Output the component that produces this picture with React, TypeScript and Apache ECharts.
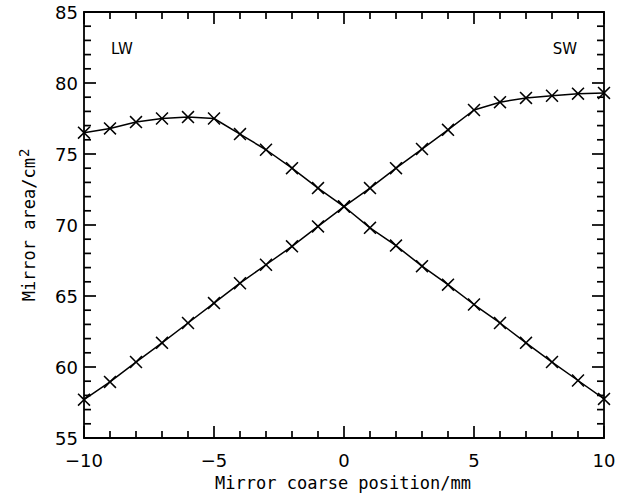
import React, { useEffect, useRef } from "react";
import * as echarts from "echarts";

const positions = [-10, -9, -8, -7, -6, -5, -4, -3, -2, -1, 0, 1, 2, 3, 4, 5, 6, 7, 8, 9, 10];
const lwValues = [76.5, 76.8, 77.25, 77.5, 77.6, 77.5, 76.4, 75.3, 74.0, 72.6, 71.3, 69.8, 68.55, 67.1, 65.8, 64.4, 63.1, 61.7, 60.35, 59.05, 57.75];
const swValues = [57.7, 58.95, 60.35, 61.7, 63.1, 64.5, 65.9, 67.2, 68.5, 69.9, 71.3, 72.6, 74.0, 75.35, 76.7, 78.1, 78.65, 78.95, 79.1, 79.25, 79.3];
const xTickValues = [-10, -9, -8, -7, -6, -5, -4, -3, -2, -1, 0, 1, 2, 3, 4, 5, 6, 7, 8, 9, 10];
const yTickValues = [55, 56, 57, 58, 59, 60, 61, 62, 63, 64, 65, 66, 67, 68, 69, 70, 71, 72, 73, 74, 75, 76, 77, 78, 79, 80, 81, 82, 83, 84, 85];
const xLabel = "Mirror coarse position/mm";
const yLabelMain = "Mirror area/cm";
const yLabelSup = "2";
const leftTag = "LW";
const rightTag = "SW";

const FONT = "DejaVu Sans";
const MONO = "DejaVu Sans Mono";
const CROSS = "path://M0,1L1,0L6,5L11,0L12,1L7,6L12,11L11,12L6,7L1,12L0,11L5,6Z";
const MAJOR = 12;
const MINOR = 7;

export default function App() {
  const ref = useRef<HTMLDivElement>(null);
  useEffect(() => {
    if (!ref.current) return;
    const chart = echarts.init(ref.current, null, { renderer: "svg" });
    const labelStyle = { color: "#000", fontFamily: FONT, fontSize: 18 };
    const mkSeries = (vals: number[]) => ({
      type: "line",
      data: positions.map((p, i) => [p, vals[i]]),
      symbol: CROSS,
      symbolSize: 13,
      showSymbol: true,
      itemStyle: { color: "#000" },
      lineStyle: { color: "#000", width: 1.5 },
    });
    const textGraphics: any[] = [
      { type: "text", id: "lw", x: 122, y: 49, style: { text: leftTag, fill: "#000", font: `15px "${FONT}"`, align: "center", verticalAlign: "middle" } },
      { type: "text", id: "sw", x: 565, y: 49, style: { text: rightTag, fill: "#000", font: `15px "${FONT}"`, align: "center", verticalAlign: "middle" } },
      { type: "text", id: "xl", x: 343, y: 483, style: { text: xLabel, fill: "#000", font: `17px "${MONO}"`, align: "center", verticalAlign: "middle" } },
      {
        type: "text", id: "yl", x: 27, y: 225, rotation: Math.PI / 2,
        style: {
          text: `{m|${yLabelMain}}{s|${yLabelSup}}`,
          fill: "#000", align: "center", verticalAlign: "middle",
          rich: {
            m: { fontFamily: MONO, fontSize: 17, fill: "#000", verticalAlign: "bottom", lineHeight: 20 },
            s: { fontFamily: MONO, fontSize: 14, fill: "#000", verticalAlign: "top", lineHeight: 20, padding: [0, 0, 10, 1] },
          },
        },
      },
    ];
    chart.setOption({
      animation: false,
      grid: { show: true, left: 84, right: 19, top: 12, bottom: 59, borderColor: "#000", borderWidth: 1.8, backgroundColor: "transparent" },
      xAxis: {
        type: "value", min: -10, max: 10, interval: 5,
        axisLine: { show: false, onZero: false }, axisTick: { show: false }, minorTick: { show: false },
        splitLine: { show: false },
        axisLabel: { ...labelStyle, margin: 13, formatter: (v: number) => (v < 0 ? "\u2212" + Math.abs(v) : String(v)) },
      },
      yAxis: {
        type: "value", min: 55, max: 85, interval: 5,
        axisLine: { show: false, onZero: false }, axisTick: { show: false }, minorTick: { show: false },
        splitLine: { show: false },
        axisLabel: { ...labelStyle, margin: 6 },
      },
      series: [mkSeries(lwValues), mkSeries(swValues)],
      graphic: { elements: textGraphics },
    });

    const ticks: any[] = [];
    const tickStyle = { stroke: "#000", lineWidth: 1.7 };
    const xMin = xTickValues[0];
    const xMax = xTickValues[xTickValues.length - 1];
    const yMin = yTickValues[0];
    const yMax = yTickValues[yTickValues.length - 1];
    const toPx = (p: number[]) => chart.convertToPixel({ gridIndex: 0 }, p) as number[];
    xTickValues.forEach((v, i) => {
      const b = toPx([v, yMin]);
      const t = toPx([v, yMax]);
      const len = v % 5 === 0 ? MAJOR : MINOR;
      ticks.push({ type: "line", id: "xb" + i, z: 100, shape: { x1: b[0], y1: b[1], x2: b[0], y2: b[1] - len }, style: tickStyle });
      ticks.push({ type: "line", id: "xt" + i, z: 100, shape: { x1: t[0], y1: t[1], x2: t[0], y2: t[1] + len }, style: tickStyle });
    });
    yTickValues.forEach((v, i) => {
      const l = toPx([xMin, v]);
      const r = toPx([xMax, v]);
      const len = v % 5 === 0 ? MAJOR : MINOR;
      ticks.push({ type: "line", id: "yl" + i, z: 100, shape: { x1: l[0], y1: l[1], x2: l[0] + len, y2: l[1] }, style: tickStyle });
      ticks.push({ type: "line", id: "yr" + i, z: 100, shape: { x1: r[0], y1: r[1], x2: r[0] - len, y2: r[1] }, style: tickStyle });
    });
    chart.setOption({ graphic: { elements: [...textGraphics, ...ticks] } });
    return () => chart.dispose();
  }, []);
  return <div ref={ref} style={{ position: "absolute", left: 0, top: 0, width: 623, height: 497, background: "#fff" }} />;
}
